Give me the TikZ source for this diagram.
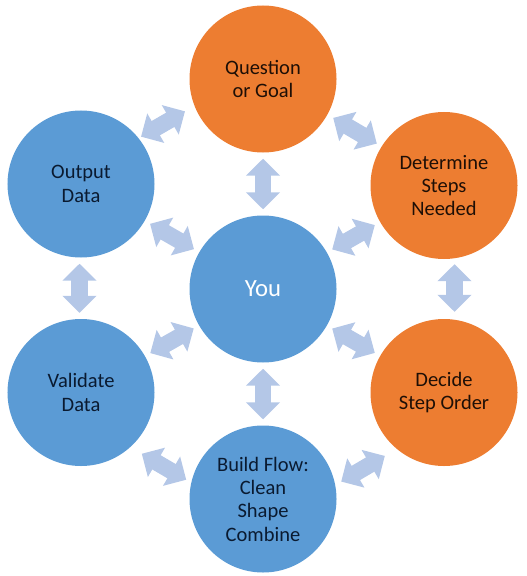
\documentclass[tikz,border=0pt]{standalone}
\usepackage{fontspec}
\setmainfont{Carlito}
\usetikzlibrary{arrows.meta,calc}
\definecolor{orangefill}{HTML}{ED7D31}
\definecolor{bluefill}{HTML}{5B9BD5}
\definecolor{arrowfill}{HTML}{B4C7E7}
\definecolor{orangetext}{HTML}{1E0F06}
\definecolor{bluetext}{HTML}{0A1A30}
\tikzset{
  bubble/.style={circle, inner sep=0pt, minimum size=147bp, align=center,
    font=\fontsize{20.5bp}{23.3bp}\selectfont},
  orangebubble/.style={bubble, fill=orangefill, text=orangetext},
  bluebubble/.style={bubble, fill=bluefill, text=bluetext},
  hubbubble/.style={circle, inner sep=0pt, minimum size=147bp, fill=bluefill,
    text=white, font=\fontsize{24.7bp}{28bp}\selectfont},
  dblarrow/.style={draw=arrowfill, line width=16.5bp,
    {Triangle[width=33bp,length=17bp]}-{Triangle[width=33bp,length=17bp]},
    shorten <=6bp, shorten >=6bp},
  moved/.style={transform canvas={shift={#1}}}
}
\begin{document}
\begin{tikzpicture}[x=1bp,y=-1bp]
\useasboundingbox (0,0) rectangle (527,576);
\node[hubbubble] (you) at (263,289) {You};
\node[orangebubble] (goal) at (263,79) {Question\\or Goal};
\node[orangebubble] (steps) at (444,185.5) {Determine\\Steps\\Needed};
\node[orangebubble] (order) at (444,392.5) {Decide\\Step Order};
\node[bluebubble] (build) at (263,499) {Build Flow:\\Clean\\Shape\\Combine};
\node[bluebubble] (valid) at (81,392.5) {Validate\\Data};
\node[bluebubble] (output) at (81,184) {Output\\Data};
% hub arrows
\draw[dblarrow] (you) -- (goal);
\draw[dblarrow] (you) -- (steps);
\draw[dblarrow] (you) -- (order);
\draw[dblarrow] (you) -- (build);
\draw[dblarrow] (you) -- (valid);
\draw[dblarrow] (you) -- (output);
% ring arrows
\draw[dblarrow, moved={(-9,-7.5)}] (output) -- (goal);
\draw[dblarrow, moved={(1.5,-1.5)}] (goal) -- (steps);
\draw[dblarrow, moved={(10.5,-1)}] (steps) -- (order);
\draw[dblarrow, moved={(9.5,23)}] (order) -- (build);
\draw[dblarrow, moved={(-8,21)}] (build) -- (valid);
\draw[dblarrow, moved={(-1.5,0)}] (valid) -- (output);
\end{tikzpicture}
\end{document}
